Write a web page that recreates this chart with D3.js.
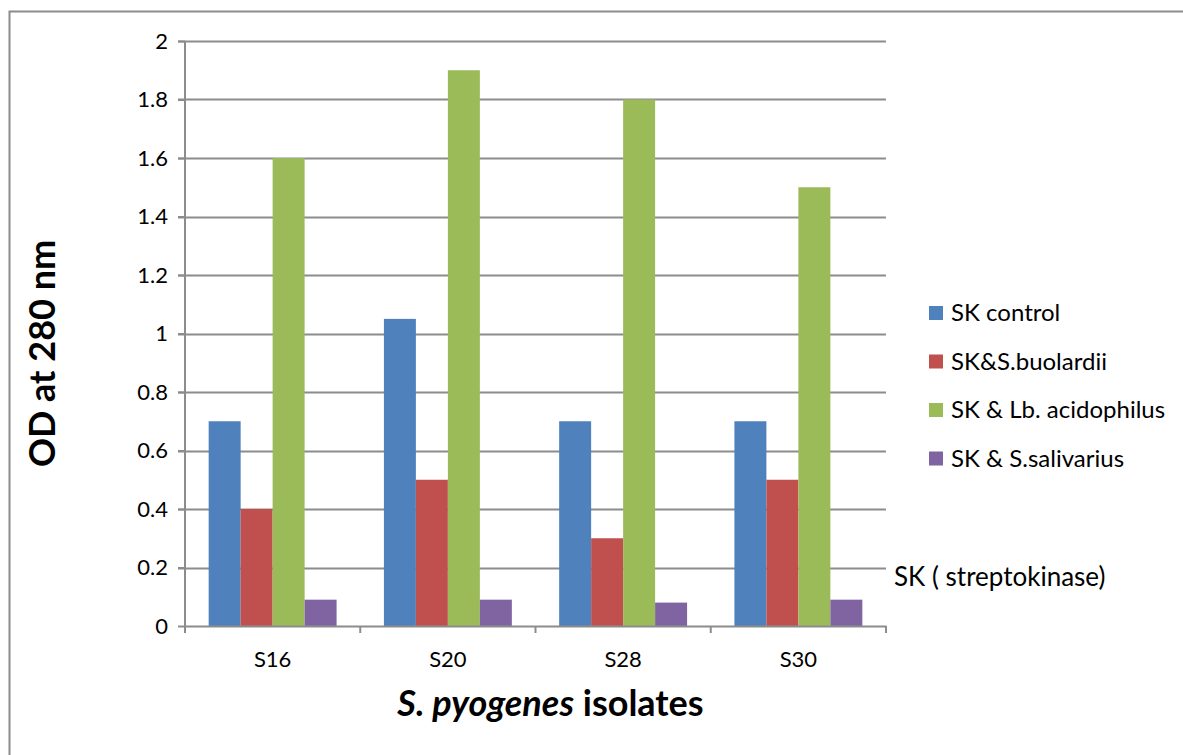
<!DOCTYPE html>
<html>
<head>
<meta charset="utf-8">
<script src="https://cdn.jsdelivr.net/npm/d3@7"></script>
<style>
  html, body { margin: 0; padding: 0; background: #fff; }
  svg { display: block; font-family: Lato, "Open Sans", sans-serif; }
</style>
</head>
<body>
<svg id="chart" width="1183" height="755"></svg>
<script>
// Isolates and the four treatment series (OD at 280 nm)
const isolates = ["S16", "S20", "S28", "S30"];
const seriesNames = ["SK control", "SK&S.buolardii", "SK & Lb. acidophilus", "SK & S.salivarius"];
const skControl = [0.7, 1.05, 0.7, 0.7];
const skBoulardii = [0.4, 0.5, 0.3, 0.5];
const skAcidophilus = [1.6, 1.9, 1.8, 1.5];
const skSalivarius = [0.09, 0.09, 0.08, 0.09];
const seriesColors = ["#4f81bd", "#c0504d", "#9bbb59", "#8064a2"];
const yTicks = [0, 0.2, 0.4, 0.6, 0.8, 1, 1.2, 1.4, 1.6, 1.8, 2];

const seriesValues = [skControl, skBoulardii, skAcidophilus, skSalivarius];

const svg = d3.select("#chart");
const plot = { left: 185, right: 886, top: 41, bottom: 626 };
const gridColor = "#8c8c8c";
const smallFont = 22;

// Outer chart frame (top and left edges)
svg.append("path")
  .attr("d", "M9.5,755 L9.5,11.5 L1183,11.5")
  .attr("fill", "none").attr("stroke", gridColor).attr("stroke-width", 2);

const x0 = d3.scaleBand().domain(isolates).range([plot.left, plot.right]);
const groupGap = x0.bandwidth() * 0.135;
const x1 = d3.scaleBand().domain(d3.range(seriesNames.length))
  .range([groupGap, x0.bandwidth() - groupGap]);
const y = d3.scaleLinear().domain([0, 2]).range([plot.bottom, plot.top]);

// Horizontal gridlines
svg.append("g").selectAll("line").data(yTicks.filter(d => d > 0)).join("line")
  .attr("x1", plot.left - 7).attr("x2", plot.right)
  .attr("y1", d => Math.round(y(d)) + 0.5).attr("y2", d => Math.round(y(d)) + 0.5)
  .attr("stroke", gridColor).attr("stroke-width", 2);

// Bars
const groups = svg.append("g").selectAll("g").data(isolates).join("g")
  .attr("transform", d => `translate(${x0(d)},0)`);
groups.selectAll("rect")
  .data((d, i) => seriesValues.map((vals, s) => ({ s, v: vals[i] })))
  .join("rect")
  .attr("x", d => x1(d.s))
  .attr("width", x1.bandwidth())
  .attr("y", d => y(d.v))
  .attr("height", d => y(0) - y(d.v))
  .attr("fill", d => seriesColors[d.s]);

// Y axis
const yAxis = svg.append("g").attr("transform", `translate(${plot.left},0)`)
  .call(d3.axisLeft(y).tickValues(yTicks).tickSize(7).tickPadding(10)
    .tickFormat(d => d3.format("~g")(d)));
yAxis.select(".domain").attr("stroke", gridColor).attr("stroke-width", 2).attr("d", `M0,${plot.bottom}V${plot.top}`);
yAxis.selectAll(".tick line").attr("stroke", gridColor).attr("stroke-width", 2);
yAxis.selectAll(".tick text").attr("font-size", smallFont).attr("fill", "#000").attr("font-family", "Lato, sans-serif");

// X axis
const xAxis = svg.append("g").attr("transform", `translate(0,${plot.bottom})`)
  .call(d3.axisBottom(x0).tickSize(0).tickPadding(25));
xAxis.select(".domain").attr("stroke", gridColor).attr("stroke-width", 2);
xAxis.selectAll(".tick text").attr("font-size", smallFont).attr("fill", "#000").attr("font-family", "Lato, sans-serif");
const boundaries = isolates.map(d => x0(d)).concat([plot.right]);
xAxis.append("g").selectAll("line").data(boundaries).join("line")
  .attr("x1", d => d).attr("x2", d => d).attr("y1", 0).attr("y2", 7)
  .attr("stroke", gridColor).attr("stroke-width", 2);

// Axis titles
svg.append("text")
  .attr("transform", `translate(55,${(plot.top + plot.bottom) / 2 + 20}) rotate(-90)`)
  .attr("text-anchor", "middle").attr("font-size", 36).attr("font-weight", "bold").attr("fill", "#000")
  .text("OD at 280 nm");

const xTitle = svg.append("text")
  .attr("x", (plot.left + plot.right) / 2 + 15).attr("y", 716)
  .attr("text-anchor", "middle").attr("font-size", 36).attr("font-weight", "bold").attr("fill", "#000");
xTitle.append("tspan").attr("font-style", "italic").text("S. pyogenes");
xTitle.append("tspan").text(" isolates");

// Legend
const legend = svg.append("g").attr("transform", "translate(929,313)");
const items = legend.selectAll("g").data(seriesNames).join("g")
  .attr("transform", (d, i) => `translate(0,${i * 48.5})`);
items.append("rect").attr("x", 0).attr("y", -7).attr("width", 14).attr("height", 14)
  .attr("fill", (d, i) => seriesColors[i]);
items.append("text").attr("x", 22).attr("y", 0).attr("dy", "0.35em")
  .attr("font-size", 24).attr("fill", "#000").text(d => d);

// Note on abbreviation
svg.append("text").attr("x", 894).attr("y", 577).attr("dy", "0.35em")
  .attr("font-size", 26).attr("fill", "#000").text("SK ( streptokinase)");
</script>
</body>
</html>
